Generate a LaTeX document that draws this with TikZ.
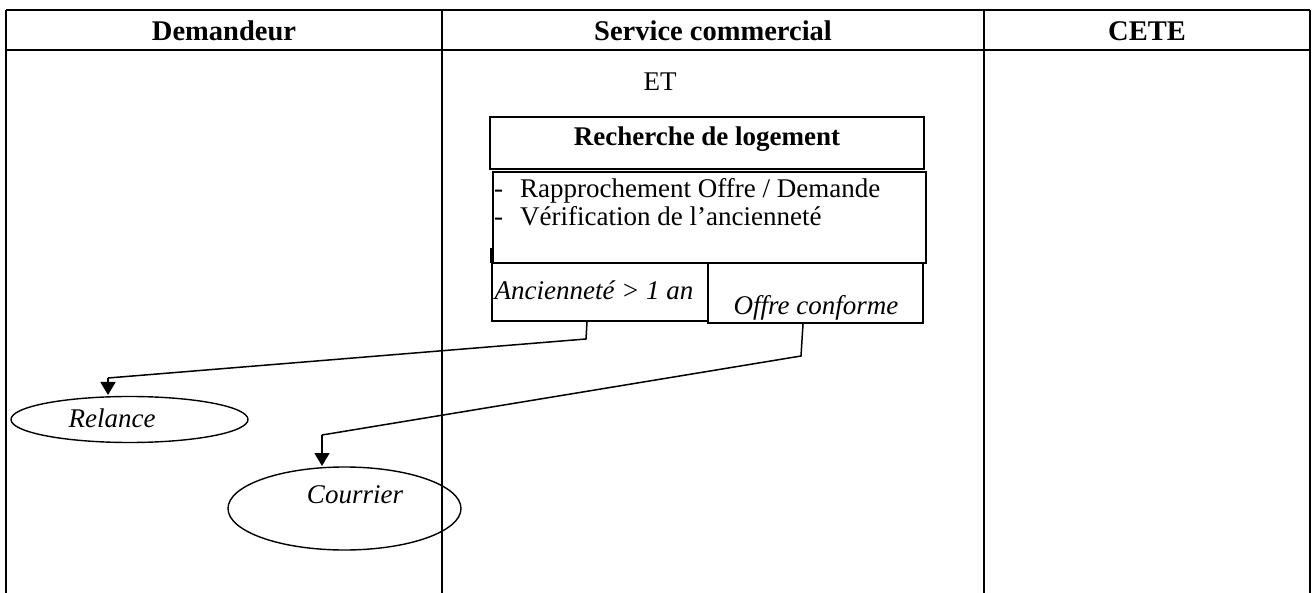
\documentclass[tikz,border=0pt]{standalone}
\usepackage{fontspec}
\setmainfont{Liberation Serif}
\usetikzlibrary{arrows.meta,shapes.geometric}
\begin{document}
\begin{tikzpicture}[x=1pt,y=-1pt,
  tline/.style={line width=2.3pt},
  hdr/.style={font=\fontsize{28.5}{30}\selectfont\bfseries, inner sep=0pt},
  txt/.style={font=\fontsize{27}{30}\selectfont, inner sep=0pt, anchor=base},
  itxt/.style={font=\fontsize{27}{30}\selectfont\itshape, inner sep=0pt, anchor=base},
  boxn/.style={draw, line width=2.2pt, rectangle, inner sep=0pt},
  ell/.style={draw, line width=1.4pt, ellipse, inner sep=0pt},
  conn/.style={line width=1.5pt},
  arr/.style={line width=1.5pt, -{Triangle[width=15pt,length=13pt]}}
]
\useasboundingbox (0,0) rectangle (1312,593);
% table
\draw[tline] (6,10) -- (1310,10);
\draw[tline] (6,50) -- (1310,50);
\draw[tline] (6,10) -- (6,593);
\draw[tline] (442,10) -- (442,593);
\draw[tline] (984,10) -- (984,593);
\draw[tline] (1310,10) -- (1310,593);
\node[hdr] (h1) at (224,31) {Demandeur};
\node[hdr] (h2) at (713,31) {Service commercial};
\node[hdr] (h3) at (1147,31) {CETE};
% service commercial
\node[txt] (et) at (660,91) {ET};
\node[boxn, minimum width=434pt, minimum height=52pt] (rech) at (707,143) {};
\node[txt, font=\fontsize{27}{30}\selectfont\bfseries] (recht) at (707,146) {Recherche de logement};
\node[boxn, minimum width=433pt, minimum height=91pt] (act) at (709.5,217.5) {};
\draw[line width=3pt] (491.5,248) -- (491.5,263);
\node[txt, anchor=base west] (d1) at (494,198) {-};
\node[txt, anchor=base west] (l1) at (520,198) {Rapprochement Offre / Demande};
\node[txt, anchor=base west] (d2) at (494,226) {-};
\node[txt, anchor=base west] (l2) at (520,226) {Vérification de l’ancienneté};
\node[boxn, minimum width=216pt, minimum height=58pt] (anc) at (600,292) {};
\node[itxt] (anct) at (594,300) {Ancienneté > 1 an};
\node[boxn, minimum width=215pt, minimum height=60pt] (off) at (815.5,293) {};
\node[itxt] (offt) at (816,315) {Offre conforme};
% demandeur
\node[ell, minimum width=237pt, minimum height=46pt] (rel) at (129.5,419.5) {};
\node[itxt] (relt) at (112,428) {Relance};
\node[ell, minimum width=233pt, minimum height=83pt] (cou) at (344.5,508.5) {};
\node[itxt] (cout) at (355,503) {Courrier};
% connectors
\coordinate (a1) at (586,339);
\coordinate (a2) at (108,378);
\coordinate (a3) at (108,395);
\coordinate (b1) at (801,356);
\coordinate (b2) at (322,435);
\coordinate (b3) at (322,466);
\draw[conn] ([xshift=-13pt]anc.south) -- (a1) -- (a2);
\draw[arr] (a2) -- (a3);
\draw[conn] ([xshift=-12.5pt]off.south) -- (b1) -- (b2);
\draw[arr] (b2) -- (b3);
\end{tikzpicture}
\end{document}
